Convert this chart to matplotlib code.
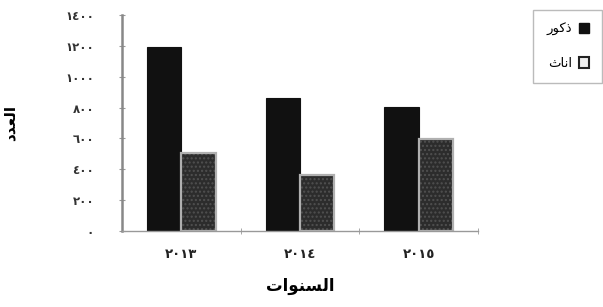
import matplotlib.pyplot as plt
import matplotlib.patches as patches
import numpy as np

# Arabic text is written in shaped presentation forms, visual order,
# because matplotlib does not do Arabic joining / RTL itself
years = ['\u0662\u0660\u0661\u0663', '\u0662\u0660\u0661\u0664', '\u0662\u0660\u0661\u0665']
males = [1190, 860, 805]
females = [505, 365, 595]
y_ticks = [0, 200, 400, 600, 800, 1000, 1200, 1400]
y_tick_labels = ['\u0660', '\u0662\u0660\u0660', '\u0664\u0660\u0660', '\u0666\u0660\u0660',
                 '\u0668\u0660\u0660', '\u0661\u0660\u0660\u0660', '\u0661\u0662\u0660\u0660',
                 '\u0661\u0664\u0660\u0660']
label_males = '\uFEAD\uFEEE\uFEDB\uFEAB'          # ذكور
label_females = '\uFE99\uFE8E\uFEE7\uFE8D'        # اناث
x_title = '\uFE95\uFE8D\uFEEE\uFEE8\uFEB4\uFEDF\uFE8D'  # السنوات
y_title = '\uFEA9\uFEAA\uFECC\uFEDF\uFE8D'        # العدد

plt.rcParams['font.family'] = ['DejaVu Sans']

fig = plt.figure(figsize=(6.03, 3.07), dpi=100)
ax = fig.add_axes([0.202, 0.248, 0.591, 0.703])

x = np.arange(len(years))
w = 0.29
ax.bar(x - w / 2, males, w, color='#111111', edgecolor='#111111', linewidth=0.8)
# stippled fill for the females, then a light outline on top
ax.bar(x + w / 2, females, w, color='#2c2c2c', edgecolor='#505050', linewidth=0,
       hatch='....')
ax.bar(x + w / 2, females, w, fill=False, edgecolor='#b0b0b0', linewidth=1.6)

ax.set_xlim(-0.5, 2.5)
ax.set_ylim(0, 1400)
ax.set_yticks(y_ticks)
ax.set_yticklabels(y_tick_labels, fontsize=8.5, fontweight='bold', color='#333333')
ax.set_xticks(x)
ax.set_xticklabels(years, fontsize=9.5, fontweight='bold', color='#222222')
ax.set_xticks([0.5, 1.5, 2.5], minor=True)
ax.tick_params(axis='x', which='major', length=0, pad=12)
ax.tick_params(axis='x', which='minor', length=4, direction='inout', color='#999999')
ax.tick_params(axis='y', length=4, direction='inout', color='#999999', pad=18)

for s in ['top', 'right']:
    ax.spines[s].set_visible(False)
ax.spines['left'].set_color('#888888')
ax.spines['left'].set_linewidth(1.8)
ax.spines['bottom'].set_color('#999999')
ax.spines['bottom'].set_linewidth(1.0)

ax.set_xlabel(x_title, fontsize=12, fontweight='bold', labelpad=12)
ax.set_ylabel(y_title, fontsize=11, fontweight='bold', labelpad=34)

h_m = patches.Patch(facecolor='#111111', edgecolor='#111111')
h_f = patches.Patch(facecolor='#eeeeee', edgecolor='#222222', linewidth=1.5)
leg = fig.legend([h_m, h_f], [label_males, label_females], loc='upper right',
                 bbox_to_anchor=(1.01, 0.99), markerfirst=False, fontsize=9.5,
                 frameon=True, fancybox=False, edgecolor='#aaaaaa',
                 handlelength=0.8, handleheight=0.8, labelspacing=1.6,
                 borderpad=1.0, handletextpad=0.5)

fig.savefig('out.png', dpi=100)
